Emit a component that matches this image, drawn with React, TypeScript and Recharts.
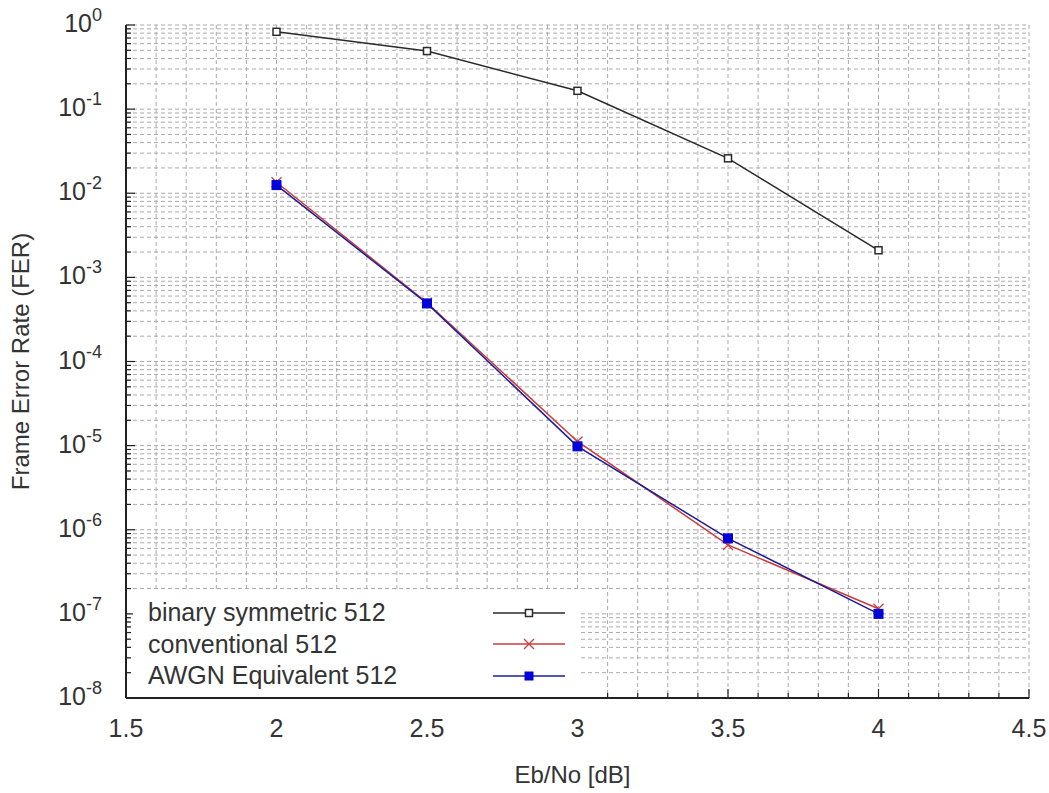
import React from "react";
import { LineChart, Line, XAxis, YAxis, CartesianGrid } from "recharts";

const FONT = "'Liberation Sans', Arial, sans-serif";
const TEXT = "#333";
const BLACK = "#2a2a2a";
const RED = "#cc3b3b";
const BLUE = "#1c1c9a";
const BLUE_MARK = "#0000d8";

// Eb/No [dB]
const ebno = [2, 2.5, 3, 3.5, 4];
// FER per curve
const ferBinarySym = [0.83, 0.49, 0.165, 0.026, 0.0021];
const ferConventional = [0.0135, 5.0e-4, 1.12e-5, 6.6e-7, 1.15e-7];
const ferAwgn = [0.0125, 4.9e-4, 9.8e-6, 7.9e-7, 1.0e-7];

const decades = [-8, -7, -6, -5, -4, -3, -2, -1];
const mantissas = [1, 2, 3, 4, 5, 6, 7, 8, 9];
const yTicks = [...decades.flatMap((d) => mantissas.map((m) => m * Math.pow(10, d))), 1];
const xTicks = Array.from({ length: 31 }, (_, i) => Math.round((1.5 + i * 0.1) * 10) / 10);

const legendItems = [
  { name: "binary symmetric 512", color: BLACK, marker: "square" },
  { name: "conventional 512", color: RED, marker: "cross" },
  { name: "AWGN Equivalent 512", color: BLUE, marker: "filled" },
];

const data = ebno.map((x, i) => ({
  x,
  bsc: ferBinarySym[i],
  conv: ferConventional[i],
  awgn: ferAwgn[i],
}));

const isDecade = (v: number) => Math.abs(Math.log10(v) - Math.round(Math.log10(v))) < 1e-9;
const isHalf = (v: number) => Math.abs(v * 2 - Math.round(v * 2)) < 1e-9;

function LeftTick({ x, y, payload }: any) {
  const major = isDecade(payload.value);
  const exp = Math.round(Math.log10(payload.value));
  return (
    <g>
      <line x1={x} x2={x + (major ? 9 : 5)} y1={y} y2={y} stroke="#222" strokeWidth={1.2} />
      {major && (
        <text x={x - 24} y={y + 7} textAnchor="end" fontSize={25} fill={TEXT} fontFamily={FONT}>
          10
          <tspan dy={-11} fontSize={18}>
            {exp}
          </tspan>
        </text>
      )}
    </g>
  );
}

function RightTick({ x, y, payload }: any) {
  const major = isDecade(payload.value);
  return <line x1={x} x2={x - (major ? 9 : 5)} y1={y} y2={y} stroke="#222" strokeWidth={1.2} />;
}

function BottomTick({ x, y, payload }: any) {
  const major = isHalf(payload.value);
  return (
    <g>
      <line x1={x} x2={x} y1={y} y2={y - (major ? 9 : 5)} stroke="#222" strokeWidth={1.2} />
      {major && (
        <text x={x} y={y + 39} textAnchor="middle" fontSize={25} fill={TEXT} fontFamily={FONT}>
          {String(payload.value)}
        </text>
      )}
    </g>
  );
}

function TopTick({ x, y, payload }: any) {
  const major = isHalf(payload.value);
  return <line x1={x} x2={x} y1={y} y2={y + (major ? 9 : 5)} stroke="#222" strokeWidth={1.2} />;
}

function SquareDot({ cx, cy }: any) {
  if (cx == null || cy == null) return null;
  return <rect x={cx - 3.5} y={cy - 3.5} width={7} height={7} fill="#fff" stroke={BLACK} strokeWidth={1.5} />;
}

function CrossDot({ cx, cy }: any) {
  if (cx == null || cy == null) return null;
  return (
    <g stroke={RED} strokeWidth={1.3}>
      <line x1={cx - 5} y1={cy - 5} x2={cx + 5} y2={cy + 5} />
      <line x1={cx - 5} y1={cy + 5} x2={cx + 5} y2={cy - 5} />
    </g>
  );
}

function FilledDot({ cx, cy }: any) {
  if (cx == null || cy == null) return null;
  return <rect x={cx - 4.5} y={cy - 4.5} width={9} height={9} fill={BLUE_MARK} stroke={BLUE_MARK} />;
}

function XTitle({ viewBox }: any) {
  const cx = viewBox.x + viewBox.width / 2 - 5;
  return (
    <text x={cx} y={viewBox.y + 85} textAnchor="middle" fontSize={24} fill={TEXT} fontFamily={FONT}>
      Eb/No [dB]
    </text>
  );
}

function YTitle({ viewBox }: any) {
  const cy = viewBox.y + viewBox.height / 2;
  const cx = viewBox.x + 29;
  return (
    <text
      x={cx}
      y={cy}
      transform={`rotate(-90 ${cx} ${cy})`}
      textAnchor="middle"
      fontSize={24}
      fill={TEXT}
      fontFamily={FONT}
    >
      Frame Error Rate (FER)
    </text>
  );
}

function LegendMarker({ color, marker }: { color: string; marker: string }) {
  return (
    <svg width={74} height={14} style={{ display: "block" }}>
      <line x1={0} x2={72} y1={7} y2={7} stroke={color} strokeWidth={1.5} />
      {marker === "square" && <rect x={32.5} y={3.5} width={7} height={7} fill="#fff" stroke={color} strokeWidth={1.5} />}
      {marker === "cross" && (
        <g stroke={RED} strokeWidth={1.3}>
          <line x1={31} y1={2} x2={41} y2={12} />
          <line x1={31} y1={12} x2={41} y2={2} />
        </g>
      )}
      {marker === "filled" && <rect x={31.5} y={2.5} width={9} height={9} fill={BLUE_MARK} />}
    </svg>
  );
}

export default function App() {
  return (
    <div style={{ position: "absolute", left: 0, top: 0, width: 1049, height: 793, background: "#fff" }}>
      <LineChart width={1049} height={793} data={data} margin={{ top: 25, right: 20, bottom: 0, left: 0 }}>
        <CartesianGrid stroke="#ababab" strokeDasharray="4 3" strokeWidth={1} />
        <XAxis
          dataKey="x"
          type="number"
          domain={[1.5, 4.5]}
          ticks={xTicks}
          interval={0}
          height={95}
          tickSize={0}
          tickMargin={0}
          tick={<BottomTick />}
          tickLine={false}
          axisLine={{ stroke: "#222", strokeWidth: 2 }}
          allowDataOverflow
          label={{ content: <XTitle /> } as any}
        />
        <XAxis
          xAxisId="top"
          dataKey="x"
          type="number"
          orientation="top"
          domain={[1.5, 4.5]}
          ticks={xTicks}
          interval={0}
          height={0}
          tickSize={0}
          tickMargin={0}
          tick={<TopTick />}
          tickLine={false}
          axisLine={{ stroke: "#222", strokeWidth: 2 }}
          allowDataOverflow
        />
        <YAxis
          type="number"
          scale="log"
          domain={[1e-8, 1]}
          ticks={yTicks}
          interval={0}
          width={126}
          tickSize={0}
          tickMargin={0}
          tick={<LeftTick />}
          tickLine={false}
          axisLine={{ stroke: "#222", strokeWidth: 2 }}
          allowDataOverflow
          label={{ content: <YTitle /> } as any}
        />
        <YAxis
          yAxisId="right"
          orientation="right"
          type="number"
          scale="log"
          domain={[1e-8, 1]}
          ticks={yTicks}
          interval={0}
          width={0}
          tickSize={0}
          tickMargin={0}
          tick={<RightTick />}
          tickLine={false}
          axisLine={{ stroke: "#222", strokeWidth: 2 }}
          allowDataOverflow
        />
        <Line
          dataKey="bsc"
          stroke={BLACK}
          strokeWidth={1.5}
          dot={<SquareDot />}
          activeDot={false}
          isAnimationActive={false}
        />
        <Line
          dataKey="conv"
          stroke={RED}
          strokeWidth={1.5}
          dot={<CrossDot />}
          activeDot={false}
          isAnimationActive={false}
        />
        <Line
          dataKey="awgn"
          stroke={BLUE}
          strokeWidth={1.5}
          dot={<FilledDot />}
          activeDot={false}
          isAnimationActive={false}
        />
      </LineChart>
      <div
        style={{
          position: "absolute",
          left: 133,
          top: 591,
          width: 447,
          height: 106,
          background: "#fff",
          fontFamily: FONT,
          color: TEXT,
          fontSize: 25,
        }}
      >
        {legendItems.map((item, i) => (
          <div
            key={item.name}
            style={{
              position: "absolute",
              left: 0,
              top: 6 + i * 31.5,
              width: 447,
              height: 31,
              display: "flex",
              alignItems: "center",
            }}
          >
            <span style={{ marginLeft: 15, width: 345, whiteSpace: "nowrap", lineHeight: "31px" }}>{item.name}</span>
            <LegendMarker color={item.color} marker={item.marker} />
          </div>
        ))}
      </div>
    </div>
  );
}
